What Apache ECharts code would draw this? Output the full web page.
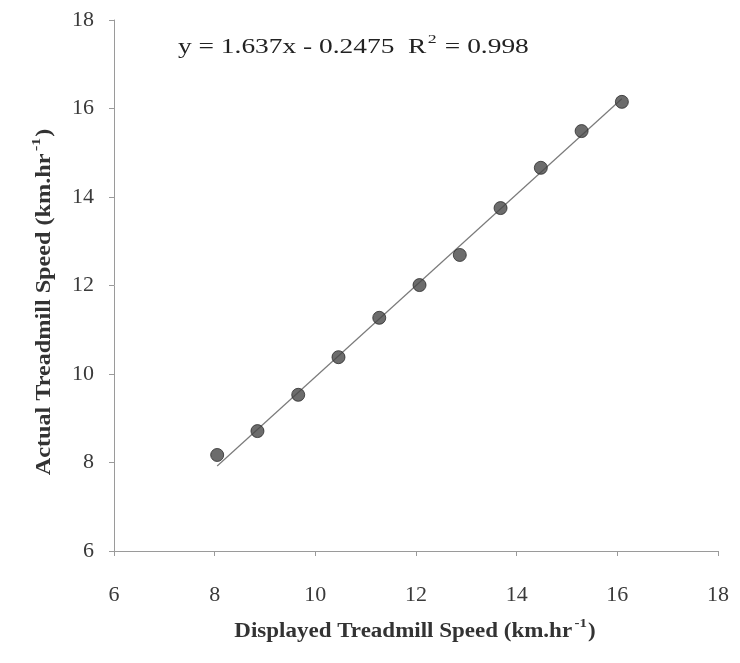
<!DOCTYPE html>
<html>
<head>
<meta charset="utf-8">
<script src="https://cdn.jsdelivr.net/npm/echarts@6/dist/echarts.min.js"></script>
<style>
  html, body { margin: 0; padding: 0; background: #fff; }
  #chart { width: 740px; height: 663px; }
</style>
</head>
<body>
<div id="chart"></div>
<script>
// displayed vs actual treadmill speed (km/hr)
const displayedSpeed = [8.05, 8.85, 9.66, 10.46, 11.27, 12.07, 12.87, 13.68, 14.48, 15.29, 16.09];
const actualSpeed = [8.17, 8.71, 9.53, 10.38, 11.27, 12.01, 12.69, 13.75, 14.66, 15.49, 16.15];
// end points of the fitted line
const fitX = [8.05, 16.09];
const fitY = [7.92, 16.22];
const axisTicks = [6, 8, 10, 12, 14, 16, 18];

const serif = 'Liberation Serif';
const chart = echarts.init(document.getElementById('chart'));

const supStyle = {fontFamily: serif, fontSize: 13, fontWeight: 'bold', fill: '#333', verticalAlign: 'top', padding: [0, 1, 16, 2]};

const axisCommon = {
    type: 'value',
    min: axisTicks[0],
    max: axisTicks[axisTicks.length - 1],
    interval: 2,
    splitLine: {show: false},
    axisLine: {show: true, lineStyle: {color: '#9a9a9a', width: 1}},
    axisTick: {show: true, length: 5, lineStyle: {color: '#9a9a9a'}}
};

chart.setOption({
    animation: false,
    grid: {left: 114, right: 22, top: 20, bottom: 112},
    xAxis: Object.assign({}, axisCommon, {
        axisLabel: {margin: 33, fontFamily: serif, fontSize: 22, color: '#3a3a3a'}
    }),
    yAxis: Object.assign({}, axisCommon, {
        axisLabel: {margin: 20, fontFamily: serif, fontSize: 22, color: '#3a3a3a'}
    }),
    graphic: [
        {
            type: 'text',
            x: 178,
            y: 48,
            scaleX: 1.37,
            style: {
                text: 'y = 1.637x - 0.2475  R{sup|2} = 0.998',
                fontFamily: serif,
                fontSize: 20,
                fill: '#222',
                align: 'left',
                verticalAlign: 'middle',
                rich: {
                    sup: {fontFamily: serif, fontSize: 13, fill: '#222', verticalAlign: 'top', padding: [0, 1, 16, 1]}
                }
            }
        },
        {
            type: 'text',
            x: 415,
            y: 632,
            scaleX: 1.15,
            style: {
                text: 'Displayed Treadmill Speed (km.hr{sup|-1})',
                fontFamily: serif,
                fontSize: 20,
                fontWeight: 'bold',
                fill: '#333',
                align: 'center',
                verticalAlign: 'middle',
                rich: {sup: supStyle}
            }
        },
        {
            type: 'text',
            x: 45,
            y: 302,
            rotation: Math.PI / 2,
            scaleX: 1.21,
            style: {
                text: 'Actual Treadmill Speed (km.hr{sup|-1})',
                fontFamily: serif,
                fontSize: 20,
                fontWeight: 'bold',
                fill: '#333',
                align: 'center',
                verticalAlign: 'middle',
                rich: {sup: supStyle}
            }
        }
    ],
    series: [
        {
            type: 'line',
            data: fitX.map((x, i) => [x, fitY[i]]),
            showSymbol: false,
            lineStyle: {color: '#7a7a7a', width: 1.2},
            z: 1
        },
        {
            type: 'scatter',
            data: displayedSpeed.map((x, i) => [x, actualSpeed[i]]),
            symbolSize: 13,
            itemStyle: {color: '#474747', borderColor: '#2a2a2a', borderWidth: 1},
            z: 2
        }
    ]
});
</script>
</body>
</html>
